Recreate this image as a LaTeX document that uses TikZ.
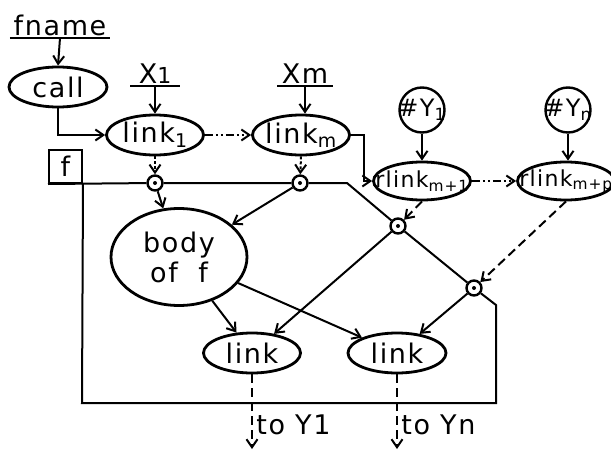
\documentclass[tikz,border=0pt]{standalone}
\usepackage{fontspec}
\setmainfont{DejaVu Sans}[LetterSpace=6]
\usetikzlibrary{shapes}
\usetikzlibrary{shapes.geometric}
\usetikzlibrary{arrows.meta}

\newcommand{\tight}[1]{\makebox[0pt]{#1}}
\newcommand{\lo}[1]{{\fontsize{22}{22}\selectfont #1}}

\begin{document}
\begin{tikzpicture}[x=1pt, y=-1pt,
        font=\fontsize{27}{30}\selectfont,
        >={Straight Barb[length=8pt,width=11pt]},
        wire/.style={line width=2pt},
        oval/.style={ellipse, draw, line width=2.8pt, minimum width=97, minimum height=40, inner sep=0pt},
        bubble/.style={circle, draw, line width=2.4pt, minimum size=45, inner sep=0pt},
        joint/.style={circle, draw, fill=white, line width=2.4pt, minimum size=15, inner sep=0pt},
        arg/.style={anchor=south, inner sep=2pt},
        small/.style={font=\fontsize{24}{26}\selectfont},
        smaller/.style={font=\fontsize{22}{24}\selectfont},
        hop/.style={dash pattern=on 8pt off 3pt on 2pt off 3pt on 2pt off 3pt},
        peek/.style={dash pattern=on 3pt off 2pt},
        later/.style={dash pattern=on 9pt off 5pt}]
        \useasboundingbox (0,0) rectangle (611,450);
        % names coming in
        \node[arg, minimum width=100] at (60,38) (fname) {fname};
        \node[arg, minimum width=49] at (155,86) (x1) {X\lo{1}};
        \node[arg, minimum width=55] at (305,86) (xm) {Xm};
        \draw[wire] (fname.south west) -- (fname.south east);
        \draw[wire] (x1.south west) -- (x1.south east);
        \draw[wire] (xm.south west) -- (xm.south east);
        % calling sequence
        \node[oval, minimum width=98] at (58,87) (call) {call};
        \node[oval] at (155,135) (link1) {\tight{link\textsubscript{1}}};
        \node[oval] at (301,135) (linkm) {\tight{link\textsubscript{m}}};
        \node[oval, smaller, minimum height=38] at (422,181) (rl1) {\tight{rlink\textsubscript{m+1}}};
        \node[oval, smaller, minimum height=38] at (566,181) (rlp) {\tight{rlink\textsubscript{m+p}}};
        \node[bubble, small] at (422,110) (y1) {\tight{\#Y\textsubscript{1}}};
        \node[bubble, small] at (568,110) (yn) {\tight{\#Y\textsubscript{n}}};
        % the closure f
        \node[draw, line width=2pt, minimum size=33, inner sep=0pt] at (65.5,166.5) (fbox) {f};
        \node[ellipse, draw, line width=2.8pt, minimum width=136, minimum height=97, align=center] at (179,257) (body) {body\\of\ \ f};
        \node[oval] at (252,353) (linka) {link};
        \node[oval, minimum width=98] at (397,353) (linkb) {link};
        \node[joint] at (155,183) (ja) {};
        \node[joint] at (300,183) (jb) {};
        \node[joint] at (398,226) (j1) {};
        \node[joint] at (474,288) (j2) {};
        \foreach \j in {ja,jb,j1,j2}
           \fill (\j) circle (2pt);
        \coordinate (bend1) at (347,183);
        \coordinate (bend2) at (496,305);
        \coordinate (bend3) at (496,403);
        \coordinate (bend4) at (82,403);
        \coordinate (outa) at (252,449);
        \coordinate (outb) at (397,449);
        \draw[wire] (fbox.south west) -- (ja) -- (jb) -- (bend1) -- (j1) -- (j2) -- (bend2) -- (bend3) -- (bend4) -- (fbox.south east);
        % arrows
        \draw[wire, ->] (fname.south) -- (call.north);
        \draw[wire, ->] (x1.south) -- (link1.north);
        \draw[wire, ->] (xm.south) -- (xm.south |- linkm.north);
        \draw[wire, ->] (y1) -- (rl1);
        \draw[wire, ->] (yn.south) -- (yn.south |- rlp.north);
        \draw[wire, ->] (call.south) |- (link1.west);
        \draw[wire, ->, hop] (link1.east) -- (linkm.west);
        \draw[wire, ->, hop] (rl1.east) -- (rlp.west);
        \draw[wire, ->] (linkm.east) -- ++(13,0) |- (rl1.west);
        \draw[wire, ->, peek] (link1.south) -- (ja);
        \draw[wire, ->, peek] (linkm.south) -- (jb);
        \draw[wire, ->, later] (rl1.south) -- (j1);
        \draw[wire, ->, later] (rlp.south) -- (j2);
        \draw[wire, ->] (ja) -- (body);
        \draw[wire, ->] (jb) -- (body);
        \draw[wire, ->] (body) -- (linka);
        \draw[wire, ->] (body) -- (linkb);
        \draw[wire, ->] (j1) -- (linka);
        \draw[wire, ->] (j2) -- (linkb);
        \draw[wire, ->, later] (linka.south) -- node[right, pos=0.68] (toa) {to Y1} (outa);
        \draw[wire, ->, later] (linkb.south) -- node[right, pos=0.68] (tob) {to Yn} (outb);
\end{tikzpicture}
\end{document}
